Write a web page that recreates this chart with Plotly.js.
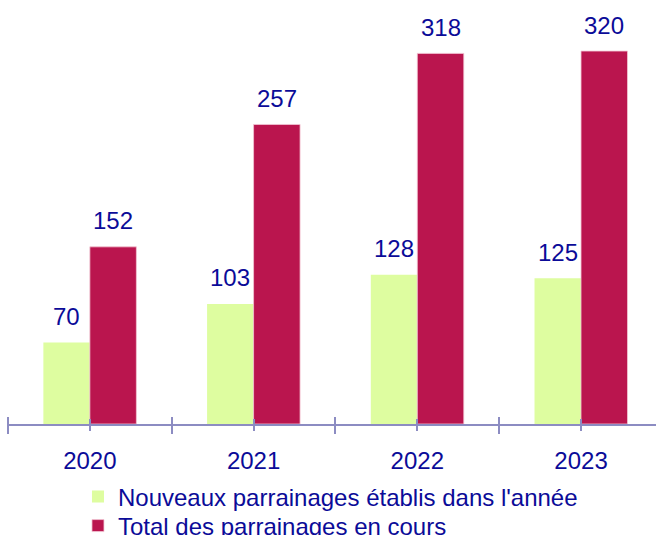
<!DOCTYPE html>
<html>
<head>
<meta charset="utf-8">
<script src="https://cdn.plot.ly/plotly-3.0.1.min.js"></script>
<style>html,body{margin:0;padding:0;background:#fff;}#chart{width:656px;height:535px;}</style>
</head>
<body>
<div id="chart"></div>
<script>
const years = ['2020', '2021', '2022', '2023'];
const nouveaux = [70, 103, 128, 125];
const total = [152, 257, 318, 320];
const seriesNames = ["Nouveaux parrainages établis dans l'année", 'Total des parrainages en cours'];

const green = '#defda0';
const red = '#ba154e';
const blue = '#0b0b98';
const axisCol = '#8c8cc2';
const FONT = 'Liberation Sans, Arial, sans-serif';
const bargap = 0.432;
const off = (1 - bargap) / 4;
const plotH = 424;

const traces = [
  {type: 'bar', name: seriesNames[0], x: years, y: nouveaux, marker: {color: green}, hoverinfo: 'none', legend: 'legend'},
  {type: 'bar', name: seriesNames[1], x: years, y: total, marker: {color: red, line: {color: '#f2c6d4', width: 0.8}}, hoverinfo: 'none', legend: 'legend2'}
];

const annotations = [];
years.forEach((yr, i) => {
  annotations.push({x: i - off, y: nouveaux[i], xref: 'x', yref: 'y', text: String(nouveaux[i]), showarrow: false, yshift: 26, yanchor: 'middle', font: {family: FONT, size: 24, color: blue}});
  annotations.push({x: i + off, y: total[i], xref: 'x', yref: 'y', text: String(total[i]), showarrow: false, yshift: 26, yanchor: 'middle', font: {family: FONT, size: 24, color: blue}});
});

const xr = [-0.5, 3.458];
const bounds = years.map((_, i) => i - 0.5).concat([years.length - 0.5]);
const centers = years.map((_, i) => i);

function tickAxis(vals, len, anchor, pos) {
  const a = {
    overlaying: 'x', type: 'linear', range: xr, showgrid: false, zeroline: false, showline: false, side: 'bottom',
    showticklabels: false, tickmode: 'array', tickvals: vals, ticks: 'outside', ticklen: len, tickwidth: 2, tickcolor: axisCol,
    fixedrange: true, automargin: false
  };
  if (anchor === 'free') { a.anchor = 'free'; a.position = pos; } else { a.anchor = 'y'; }
  return a;
}

const legendBase = {orientation: 'v', x: 0.108, xanchor: 'left', yref: 'container', yanchor: 'middle',
  font: {family: FONT, size: 24, color: blue}, bgcolor: 'rgba(0,0,0,0)'};

const layout = {
  width: 656, height: 535,
  margin: {l: 8, r: 0, t: 0, b: 535 - plotH},
  paper_bgcolor: '#ffffff', plot_bgcolor: 'rgba(0,0,0,0)',
  barmode: 'group', bargap: bargap, bargroupgap: 0,
  font: {family: FONT, size: 24, color: blue},
  xaxis: {type: 'category', range: xr, showline: true, linecolor: axisCol, linewidth: 2, ticks: '', showgrid: false,
          tickfont: {family: FONT, size: 24, color: blue}, ticklabelstandoff: 14, automargin: false},
  xaxis2: tickAxis(bounds, 9, 'y'),
  xaxis3: tickAxis(bounds, 8, 'free', 8 / plotH),
  xaxis4: tickAxis(centers, 6, 'y'),
  xaxis5: tickAxis(centers, 6, 'free', 6 / plotH),
  yaxis: {range: [0, 363.8], visible: false, showgrid: false, zeroline: false, automargin: false},
  showlegend: true,
  legend: Object.assign({}, legendBase, {y: 1 - 497 / 535}),
  legend2: Object.assign({}, legendBase, {y: 1 - 526 / 535}),
  annotations: annotations
};

['x2', 'x3', 'x4', 'x5'].forEach(ax => {
  traces.push({type: 'scatter', x: [xr[0]], y: [0], xaxis: ax, mode: 'markers', marker: {opacity: 0}, showlegend: false, hoverinfo: 'none'});
});

Plotly.newPlot('chart', traces, layout, {staticPlot: true});
</script>
</body>
</html>
